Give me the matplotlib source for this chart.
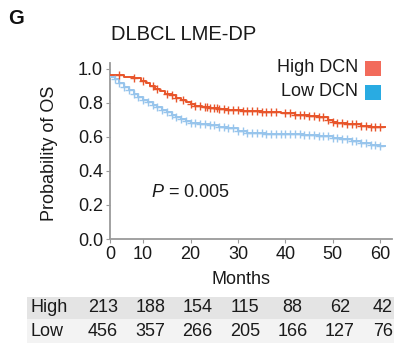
import matplotlib
matplotlib.use("Agg")
import matplotlib.pyplot as plt
from matplotlib.patches import Rectangle
import matplotlib.transforms as mtrans
import numpy as np

plt.rcParams['font.family'] = ['Liberation Sans', 'DejaVu Sans']
plt.rcParams['mathtext.fontset'] = 'custom'
plt.rcParams['mathtext.rm'] = 'Liberation Sans'
plt.rcParams['mathtext.it'] = 'Liberation Sans:italic'

# ---- data ----
high_t = [3, 6, 8, 9.5, 10.5, 11.5, 12.5, 13.5, 14.5, 16, 17, 18, 19, 20, 21, 22.5,
          24, 26, 28, 31, 35, 39, 42, 45, 47, 49, 50, 51, 53, 56, 58, 61]
high_s = [0.965, 0.955, 0.945, 0.93, 0.915, 0.90, 0.885, 0.87, 0.855, 0.845, 0.83,
          0.815, 0.805, 0.795, 0.785, 0.775, 0.77, 0.762, 0.757, 0.752, 0.745, 0.74,
          0.73, 0.725, 0.715, 0.70, 0.69, 0.68, 0.675, 0.665, 0.66, 0.66]
low_t = [3, 4, 5, 6, 7, 8, 9, 10, 11, 12, 13, 14, 15, 16, 17, 18, 19, 20, 22, 24, 26,
         28, 30, 32, 36, 40, 44, 47, 50, 52, 54, 56, 58, 60, 61]
low_s = [0.955, 0.94, 0.915, 0.895, 0.875, 0.855, 0.835, 0.82, 0.805, 0.79, 0.775,
         0.76, 0.745, 0.73, 0.715, 0.705, 0.695, 0.685, 0.675, 0.67, 0.66, 0.65,
         0.635, 0.625, 0.62, 0.615, 0.61, 0.605, 0.595, 0.59, 0.575, 0.565, 0.555,
         0.545, 0.545]
high_cens = [5, 8, 10, 12, 13, 15, 16, 17, 18.5, 20, 21, 22, 23, 23.5, 24, 25, 25.5,
             26, 27, 28, 29, 30, 31, 32, 33, 34, 35, 36, 37, 38, 40, 41, 42, 43, 44,
             45, 46, 47, 48, 49, 50, 51, 52, 53, 54, 55, 56, 57, 58, 59, 60]
low_cens = [4, 5, 6, 7, 8, 9, 10, 11, 12, 13, 14, 15, 16, 17, 18, 19, 20, 21, 22, 23,
            24, 25, 26, 27, 28, 29, 30, 31, 32, 33, 34, 35, 36, 37, 38, 39, 40, 41,
            42, 43, 44, 45, 46, 47, 48, 49, 50, 51, 52, 53, 54, 55, 56, 57, 58, 59, 60]
xtick_vals = [3, 10, 20, 30, 40, 50, 60]
xtick_labels = ['0', '10', '20', '30', '40', '50', '60']
yticks = [0.0, 0.2, 0.4, 0.6, 0.8, 1.0]
risk_months = [1.5, 11.5, 21.5, 31.5, 41.5, 51.5, 60.6]
risk_high = [213, 188, 154, 115, 88, 62, 42]
risk_low = [456, 357, 266, 205, 166, 127, 76]

red = '#e8552b'
blue = '#98c5ec'

W, H = 394, 345
fig = plt.figure(figsize=(W / 100, H / 100), dpi=100)

def fx(px):
    return px / W

def fy(py):
    return 1 - py / H

ax = fig.add_axes([fx(110), fy(239), fx(392) - fx(110), fy(63) - fy(239)])
ax.set_xlim(3.0, 62.5)
ax.set_ylim(0, 1.035)

def step_at(ts, ss, t):
    idx = np.searchsorted(ts, t, side='right') - 1
    idx = np.clip(idx, 0, len(ss) - 1)
    return np.asarray(ss)[idx]

for ts, ss, cens, col in [(low_t, low_s, low_cens, blue), (high_t, high_s, high_cens, red)]:
    ax.step(ts, ss, where='post', color=col, lw=1.4, zorder=3)
    cy = step_at(np.array(ts), ss, np.array(cens))
    ax.plot(cens, cy, linestyle='none', marker='+', ms=6, mew=1.0, color=col, zorder=4)

for s in ['top', 'right']:
    ax.spines[s].set_visible(False)
for s in ['left', 'bottom']:
    ax.spines[s].set_color('#9a9a9a')
    ax.spines[s].set_linewidth(1.3)
ax.set_xticks(xtick_vals)
ax.set_xticklabels(xtick_labels)
ax.set_yticks(yticks)
ax.set_yticklabels([f'{v:.1f}' for v in yticks])
ax.tick_params(axis='both', length=3, width=0.8, color='#9a9a9a', labelsize=13,
               labelcolor='#1a1a1a', pad=2)

# texts
fig.text(fx(8), fy(18), 'G', fontsize=14.5, fontweight='bold', va='center', ha='left',
         color='#111111')
fig.text(fx(184), fy(35), 'DLBCL LME-DP', fontsize=14.5, va='center', ha='center',
         color='#1a1a1a')
fig.text(fx(50), fy(153), 'Probability of OS', fontsize=13, rotation=90,
         va='center', ha='center', color='#1a1a1a')
fig.text(fx(241), fy(280), 'Months', fontsize=13, va='center', ha='center',
         color='#1a1a1a')
fig.text(fx(151), fy(193), r'$P$ = 0.005', fontsize=13, va='center', ha='left',
         color='#1a1a1a')

# legend
fig.text(fx(358), fy(68), 'High DCN', fontsize=13, va='center', ha='right', color='#1a1a1a')
fig.text(fx(358), fy(92), 'Low DCN', fontsize=13, va='center', ha='right', color='#1a1a1a')
fig.patches.append(Rectangle((fx(365), fy(76)), fx(16), 15 / H, transform=fig.transFigure,
                             facecolor='#f26b5b', edgecolor='none'))
fig.patches.append(Rectangle((fx(365), fy(100)), fx(16), 15 / H, transform=fig.transFigure,
                             facecolor='#29abe2', edgecolor='none'))

# risk table
fig.patches.append(Rectangle((fx(27), fy(319)), 1 - fx(27), 22 / H, transform=fig.transFigure,
                             facecolor='#e4e4e4', edgecolor='none', zorder=-2))
fig.patches.append(Rectangle((fx(27), fy(343)), 1 - fx(27), 24 / H, transform=fig.transFigure,
                             facecolor='#f3f3f3', edgecolor='none', zorder=-2))
fig.text(fx(30), fy(308), 'High', fontsize=13, va='center', ha='left', color='#1a1a1a')
fig.text(fx(30), fy(331), 'Low', fontsize=13, va='center', ha='left', color='#1a1a1a')
trans = mtrans.blended_transform_factory(ax.transData, fig.transFigure)
for m, h, l in zip(risk_months, risk_high, risk_low):
    fig.text(m, fy(308), str(h), transform=trans, fontsize=13, va='center', ha='center',
             color='#1a1a1a', zorder=5)
    fig.text(m, fy(331), str(l), transform=trans, fontsize=13, va='center', ha='center',
             color='#1a1a1a', zorder=5)

fig.savefig('out.png', dpi=100)
